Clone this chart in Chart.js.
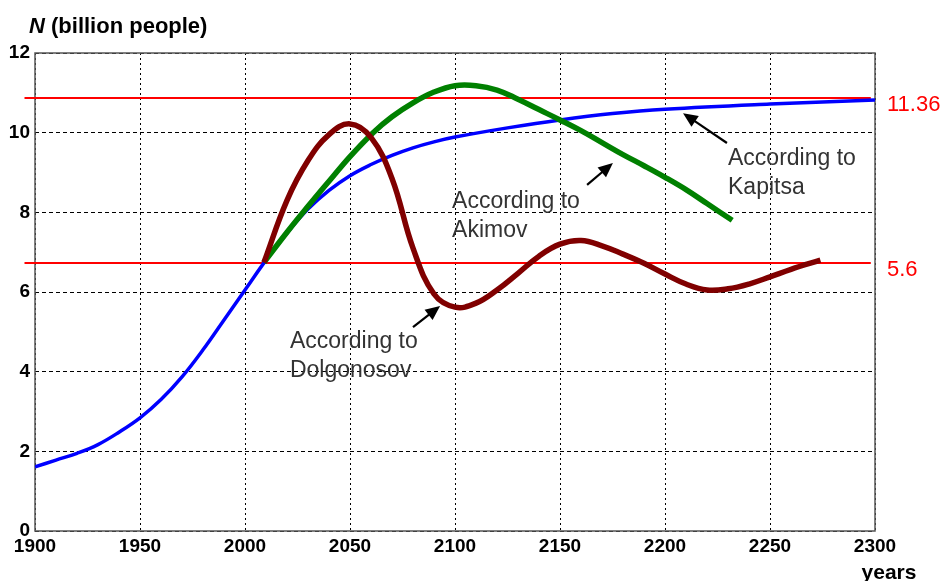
<!DOCTYPE html>
<html>
<head>
<meta charset="utf-8">
<script src="https://cdn.jsdelivr.net/npm/chart.js@4"></script>
<style>
  body { margin: 0; background: #fff; }
  canvas { display: block; }
</style>
</head>
<body>
<canvas id="chart" width="947" height="581"></canvas>
<script>
// Population forecasts (billion people)
const kapitsaYears = [1900, 1910, 1920, 1930, 1940, 1950, 1960, 1970, 1980, 1990, 2000, 2010, 2020, 2030, 2040, 2050, 2060, 2070, 2080, 2090, 2100, 2125, 2150, 2175, 2200, 2250, 2300];
const kapitsaValues = [1.61, 1.78, 1.95, 2.17, 2.48, 2.84, 3.3, 3.87, 4.55, 5.3, 6.05, 6.8, 7.48, 8.08, 8.55, 8.92, 9.2, 9.43, 9.62, 9.77, 9.89, 10.12, 10.32, 10.48, 10.59, 10.72, 10.82];

const akimovYears = [2009, 2020, 2030, 2040, 2050, 2061, 2070, 2080, 2090, 2100, 2110, 2120, 2130, 2140, 2150, 2160, 2170, 2180, 2190, 2200, 2210, 2220, 2232];
const akimovValues = [6.74, 7.5, 8.15, 8.78, 9.4, 10.0, 10.4, 10.75, 11.02, 11.18, 11.18, 11.07, 10.84, 10.58, 10.32, 10.05, 9.75, 9.45, 9.17, 8.88, 8.57, 8.22, 7.8];

const dolgonosovYears = [2009, 2020, 2030, 2040, 2050, 2060, 2070, 2080, 2090, 2100, 2110, 2120, 2130, 2140, 2150, 2160, 2170, 2180, 2190, 2200, 2210, 2220, 2230, 2240, 2250, 2260, 2274];
const dolgonosovValues = [6.74, 8.3, 9.3, 9.95, 10.22, 9.88, 8.85, 7.1, 5.95, 5.62, 5.72, 6.05, 6.47, 6.9, 7.2, 7.29, 7.16, 6.95, 6.72, 6.45, 6.2, 6.05, 6.08, 6.2, 6.38, 6.57, 6.8];

// horizontal reference lines and the labels printed next to them
const refLevels = [10.87, 6.73];
const refLabels = ['11.36', '5.6'];
const refYears = [1895, 2298];

const xTicks = [1900, 1950, 2000, 2050, 2100, 2150, 2200, 2250, 2300];
const yTicks = [0, 2, 4, 6, 8, 10, 12];

// annotation texts and arrows, in data units
const notes = [
  { lines: ['According to', 'Kapitsa'], at: [2230, 9.36], arrow: [[2229.5, 9.74], [2208.6, 10.49]] },
  { lines: ['According to', 'Akimov'], at: [2098.6, 8.26], arrow: [[2162.9, 8.69], [2175.2, 9.24]] },
  { lines: ['According to', 'Dolgonosov'], at: [2021.4, 4.75], arrow: [[2080, 5.12], [2092.9, 5.65]] }
];

const zip = (xs, ys) => xs.map((x, i) => ({ x: x, y: ys[i] }));

function drawArrow(ctx, x1, y1, x2, y2) {
  const ang = Math.atan2(y2 - y1, x2 - x1);
  const len = 16, w = 0.42;
  ctx.beginPath();
  ctx.moveTo(x1, y1);
  ctx.lineTo(x2 - Math.cos(ang) * len * 0.8, y2 - Math.sin(ang) * len * 0.8);
  ctx.stroke();
  ctx.beginPath();
  ctx.moveTo(x2, y2);
  ctx.lineTo(x2 - len * Math.cos(ang - w), y2 - len * Math.sin(ang - w));
  ctx.lineTo(x2 - len * Math.cos(ang + w), y2 - len * Math.sin(ang + w));
  ctx.closePath();
  ctx.fill();
}

const decorations = {
  id: 'decorations',
  beforeDatasetsDraw(chart) {
    const { ctx, chartArea: a } = chart;
    ctx.save();
    ctx.strokeStyle = '#555';
    ctx.lineWidth = 1.5;
    ctx.strokeRect(a.left, a.top, a.right - a.left, a.bottom - a.top);
    ctx.restore();
  },
  afterDraw(chart) {
    const { ctx, chartArea: a, scales } = chart;
    const px = v => scales.x.getPixelForValue(v);
    const py = v => scales.y.getPixelForValue(v);
    ctx.save();

    // axis title
    ctx.fillStyle = '#000';
    ctx.textBaseline = 'alphabetic';
    ctx.textAlign = 'left';
    ctx.font = 'italic bold 22px "Liberation Sans", Arial, sans-serif';
    ctx.fillText('N', 29, 33);
    const nw = ctx.measureText('N').width;
    ctx.font = 'bold 22px "Liberation Sans", Arial, sans-serif';
    ctx.fillText(' (billion people)', 29 + nw, 33);

    ctx.font = 'bold 21px "Liberation Sans", Arial, sans-serif';
    ctx.textAlign = 'center';
    ctx.fillText('years', 889, 579);

    // reference labels
    ctx.fillStyle = '#ff0000';
    ctx.textAlign = 'left';
    ctx.textBaseline = 'middle';
    ctx.font = '22px "Liberation Sans", Arial, sans-serif';
    refLabels.forEach((t, i) => ctx.fillText(t, a.right + 12, py(refLevels[i]) + 7));

    // notes
    ctx.fillStyle = '#333';
    ctx.font = '23px "Liberation Sans", Arial, sans-serif';
    notes.forEach(n => {
      n.lines.forEach((t, i) => ctx.fillText(t, px(n.at[0]), py(n.at[1]) + i * 29));
    });
    ctx.strokeStyle = '#000';
    ctx.fillStyle = '#000';
    ctx.lineWidth = 2.2;
    notes.forEach(n => {
      const [p, q] = n.arrow;
      drawArrow(ctx, px(p[0]), py(p[1]), px(q[0]), py(q[1]));
    });
    ctx.restore();
  }
};

const lineStyle = { pointRadius: 0, tension: 0.4, fill: false, borderCapStyle: 'butt' };
const tickFont = { family: '"Liberation Sans", Arial, sans-serif', size: 19, weight: 'bold' };

new Chart(document.getElementById('chart').getContext('2d'), {
  type: 'line',
  data: {
    datasets: [
      Object.assign({ label: 'Dolgonosov', data: zip(dolgonosovYears, dolgonosovValues), borderColor: 'rgb(128,0,0)', borderWidth: 5.5, order: 0 }, lineStyle),
      Object.assign({ label: 'Akimov', data: zip(akimovYears, akimovValues), borderColor: 'rgb(0,128,0)', borderWidth: 5.5, order: 1 }, lineStyle),
      Object.assign({ label: 'Kapitsa', data: zip(kapitsaYears, kapitsaValues), borderColor: 'rgb(0,0,255)', borderWidth: 3.5, order: 2 }, lineStyle),
      ...refLevels.map((v, i) => ({
        label: refLabels[i],
        data: refYears.map(x => ({ x: x, y: v })),
        borderColor: '#ff0000', borderWidth: 2, pointRadius: 0, clip: false, order: 3
      }))
    ]
  },
  options: {
    responsive: false,
    animation: false,
    layout: { padding: { top: 53, right: 72, left: 0, bottom: 0 } },
    plugins: { legend: { display: false }, tooltip: { enabled: false } },
    scales: {
      x: {
        type: 'linear', min: 1900, max: 2300,
        afterBuildTicks: s => { s.ticks = xTicks.map(v => ({ value: v })); },
        afterFit: s => { s.height = 50; },
        grid: { color: '#000', lineWidth: 1, drawTicks: false },
        border: { display: false, dash: [2, 3] },
        ticks: { padding: 4, color: '#000', font: tickFont, callback: v => String(v) }
      },
      y: {
        min: 0, max: 12,
        afterBuildTicks: s => { s.ticks = yTicks.map(v => ({ value: v })); },
        afterFit: s => { s.width = 35; },
        grid: { color: '#000', lineWidth: 1, drawTicks: false },
        border: { display: false, dash: [4, 3] },
        ticks: { padding: 5, color: '#000', font: tickFont, callback: v => String(v) }
      }
    }
  },
  plugins: [decorations]
});
</script>
</body>
</html>
